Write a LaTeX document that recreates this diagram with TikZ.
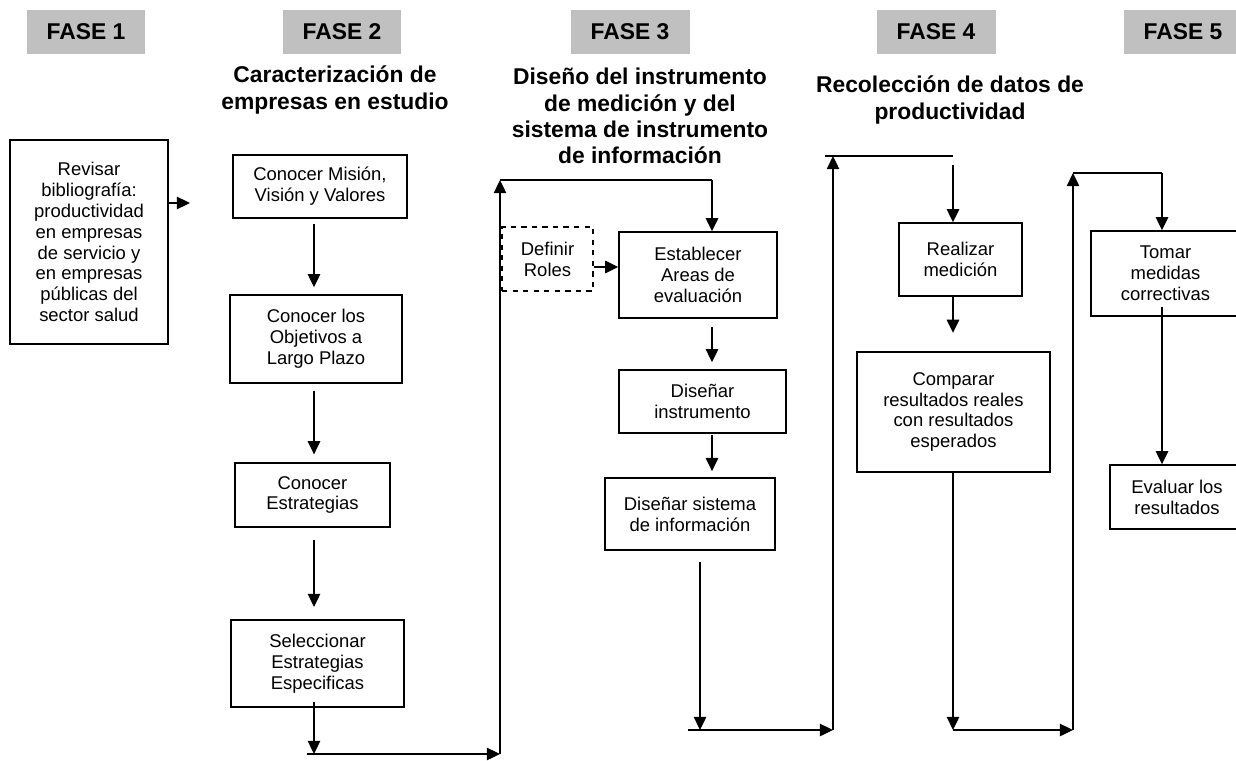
\documentclass[tikz,border=0pt]{standalone}
\usepackage{fontspec}
\setmainfont{Liberation Sans}
\usetikzlibrary{arrows.meta}
\definecolor{gris}{RGB}{192,192,192}
\tikzset{
	fase/.style={fill=gris, minimum width=2.38cm, minimum height=0.88cm, inner sep=0pt, font=\fontsize{13}{15}\selectfont\bfseries},
	titulo/.style={align=center, inner sep=0pt, font=\fontsize{13}{14.9}\selectfont\bfseries},
	caja/.style={draw, line width=0.8pt, align=center, inner sep=0pt, font=\fontsize{10.5}{11.85}\selectfont},
	flecha/.style={line width=1.1pt, -{Triangle[length=7.5pt,width=7pt]}},
	linea/.style={line width=1.1pt}
}
\begin{document}
\begin{tikzpicture}[x=0.02cm, y=-0.02cm]
			\useasboundingbox (0,0) rectangle (1236,760);
			\foreach \x/\n in {86/1,342/2,630/3,936/4,1183/5}{
				\node[fase] (f\n) at (\x,32) {FASE \n};}
			
			\node[titulo] (t2) at (335,90) {Caracterización de\\empresas en estudio};
			\node[titulo] (t3) at (640,116) {Diseño del instrumento\\de medición y del\\sistema de instrumento\\de información};
			\node[titulo] (t4) at (950,100) {Recolección de datos de\\productividad};
			
			% fase 1 y 2
			\node[caja, minimum width=3.16cm, minimum height=4.08cm] (rev) at (89,242) {Revisar\\bibliografía:\\productividad\\en empresas\\de servicio y\\en empresas\\públicas del\\sector salud};
			\node[caja, minimum width=3.48cm, minimum height=1.26cm] (mis) at (320,186.5) {Conocer Misión,\\Visión y Valores};
			\node[caja, minimum width=3.44cm, minimum height=1.76cm] (obj) at (316,339) {Conocer los\\Objetivos a\\Largo Plazo};
			\node[caja, minimum width=3.1cm, minimum height=1.28cm] (est) at (312.5,495) {Conocer\\Estrategias};
			\node[caja, minimum width=3.46cm, minimum height=1.74cm] (sel) at (317.5,663.5) {Seleccionar\\Estrategias\\Especificas};
			
			% fase 3
			\node[caja, dashed, minimum width=1.82cm, minimum height=1.28cm] (rol) at (547.5,259) {Definir\\Roles};
			\node[caja, minimum width=3.16cm, minimum height=1.72cm] (esa) at (698,275) {Establecer\\Areas de\\evaluación};
			\node[caja, minimum width=3.34cm, minimum height=1.26cm] (din) at (702.5,401.5) {Diseñar\\instrumento};
			\node[caja, minimum width=3.4cm, minimum height=1.44cm] (dsi) at (690,514) {Diseñar sistema\\de información};
			
			% fase 4 y 5
			\node[caja, minimum width=2.46cm, minimum height=1.46cm] (rea) at (960.5,259.5) {Realizar\\medición};
			\node[caja, minimum width=3.86cm, minimum height=2.4cm] (com) at (953.5,412) {Comparar\\resultados reales\\con resultados\\esperados};
			\node[caja, minimum width=2.98cm, minimum height=1.7cm] (tom) at (1165.5,273.5) {Tomar\\medidas\\correctivas};
			\node[caja, minimum width=2.68cm, minimum height=1.28cm] (eva) at (1177,497) {Evaluar los\\resultados};
			
			\coordinate (r1) at (190,203);
			\coordinate (ej) at (314,0);
			\coordinate (a1) at (307,754);
			\coordinate (a2) at (500,754);
			\coordinate (a3) at (500,180);
			\coordinate (a4) at (712,180);
			\coordinate (b1) at (700,562);
			\coordinate (b0) at (688,730);
			\coordinate (b2) at (833,730);
			\coordinate (b3) at (833,156);
			\coordinate (b4) at (825,156);
			\coordinate (b5) at (953,156);
			\coordinate (b6) at (953,165);
			\coordinate (c1) at (1073,730);
			\coordinate (c2) at (1073,173);
			\coordinate (c3) at (1162,173);
			\coordinate (c4) at (1162,307);
			
			\draw[flecha] (rev.east |- r1) to (r1);
			\draw[flecha, shorten <=2.8pt, shorten >=4pt] (mis.south -| ej) to (obj.north -| ej);
			\draw[flecha, shorten <=4pt, shorten >=4.5pt] (obj.south -| ej) to (est.north -| ej);
			\draw[flecha, shorten <=7pt, shorten >=7pt] (est.south -| ej) to (sel.north -| ej);
			\draw[flecha] ([yshift=3pt]sel.south -| ej) to (ej |- a1);
			\draw[flecha] (a1) to (a2);
			\draw[flecha] (a2) to (a3);
			\draw[linea] (a3) to (a4);
			\draw[flecha] (a4) to (esa.north -| a4);
			\draw[flecha] (rol.east |- 0,267) to (esa.west |- 0,267);
			\draw[flecha, shorten <=5pt, shorten >=4pt] (esa.south -| a4) to (din.north -| a4);
			\draw[flecha, shorten <=1pt, shorten >=3.5pt] (din.south -| a4) to (dsi.north -| a4);
			\draw[flecha] (b1) to (b1 |- b0);
			\draw[flecha] (b0) to (b2);
			\draw[flecha] (b2) to (b3);
			\draw[linea] (b4) to (b5);
			\draw[flecha] (b6) to (rea.north -| b6);
			\draw[flecha, shorten >=10.5pt] (rea.south -| b6) to (com.north -| b6);
			\draw[flecha] (com.south -| b6) to (b6 |- c1);
			\draw[flecha] (b6 |- c1) to (c1);
			\draw[flecha] (c1) to (c2);
			\draw[linea] (c2) to (c3);
			\draw[flecha] (c3) to (tom.north -| c3);
			\draw[flecha] (c4) to (eva.north -| c4);
			
		\end{tikzpicture}
\end{document}
